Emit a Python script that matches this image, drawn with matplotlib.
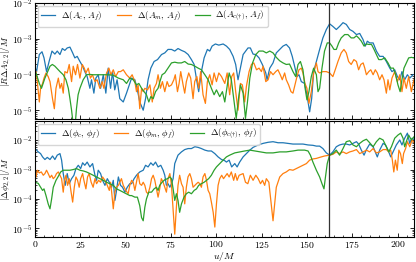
#importing libraries
import numpy as np
import matplotlib
matplotlib.use('Agg')
import matplotlib.pyplot as plt
from matplotlib.ticker import FuncFormatter, MultipleLocator, LogLocator, NullFormatter

#values
t_merge = 162.3

#top panel: amplitude differences
u_amp_c = [0.0, 0.9, 2.4, 3.9, 5.0, 6.4, 7.9, 9.4, 11.0, 12.3, 13.8, 15.1, 16.5, 17.8, 19.3, 20.8, 22.0, 23.3,
           24.8, 26.3, 27.5, 28.8, 30.3, 31.2, 32.5, 33.6, 34.9, 36.2, 37.7, 39.1, 40.4, 41.7, 42.8, 44.0, 45.3,
           46.8, 48.7, 50.5, 51.4, 53.3, 55.1, 56.5, 57.8, 59.7, 61.0, 62.4, 63.9, 65.7, 67.6, 69.8, 71.6, 73.4,
           75.3, 77.1, 78.9, 80.8, 82.6, 84.5, 86.3, 87.8, 89.0, 90.3, 91.8, 93.3, 95.1, 96.4, 97.7, 99.5, 101.4,
           103.8, 105.6, 107.4, 109.3, 110.7, 112.0, 113.3, 114.8, 116.2, 117.5, 118.8, 120.3, 121.8, 123.6,
           125.4, 127.3, 128.0, 129.5, 131.3, 133.1, 135.0, 136.8, 138.6, 140.4, 141.9, 143.2, 144.5, 145.6,
           146.9, 148.7, 150.0, 151.5, 152.6, 153.7, 155.2, 157.0, 158.8, 160.7, 162.5, 164.3, 166.2, 168.0,
           169.9, 171.7, 173.6, 175.4, 177.3, 179.1, 180.9, 182.2, 183.3, 184.6, 186.5, 188.3, 190.1, 192.0,
           193.8, 195.7, 196.9, 198.4, 199.9, 201.2, 202.4, 203.9, 205.4, 206.7, 208.5]
amp_c = [1.6e-4, 1.2e-4, 3.6e-4, 4.3e-4, 2.9e-4, 1.2e-4, 2.4e-4, 4.5e-4, 3.7e-4, 4.5e-4, 3.6e-4, 5.3e-4, 4.7e-4, 5.5e-4,
         5.8e-4, 4.0e-4, 2.9e-4, 3.2e-4, 2.3e-4, 1.7e-4, 1.2e-4, 8.7e-5, 4.1e-5, 7.1e-5, 3.0e-5, 7.9e-5, 9.8e-5,
         4.1e-5, 9.8e-5, 3.0e-5, 1.5e-4, 4.1e-5, 1.2e-4, 3.7e-5, 7.1e-5, 2.1e-5, 1.7e-5, 3.0e-5, 4.1e-5, 7.9e-5,
         7.1e-5, 3.7e-5, 1.7e-5, 1.0e-5, 2.1e-5, 7.1e-5, 1.5e-4, 2.3e-4, 2.6e-4, 3.6e-4, 4.0e-4, 5.0e-4, 5.0e-4,
         4.5e-4, 5.3e-4, 4.7e-4, 4.3e-4, 3.6e-4, 2.6e-4, 1.9e-4, 7.9e-5, 3.3e-5, 1.2e-4, 2.9e-4, 5.0e-4, 4.5e-4,
         6.2e-4, 7.1e-4, 6.6e-4, 7.1e-4, 6.2e-4, 5.0e-4, 3.2e-4, 1.9e-4, 7.1e-5, 1.5e-4, 3.6e-4, 4.5e-4, 5.5e-4,
         5.5e-4, 3.7e-4, 3.6e-4, 2.9e-4, 1.9e-4, 1.1e-4, 7.1e-5, 1.5e-4, 2.1e-4, 4.0e-4, 5.0e-4, 6.2e-4, 6.9e-4,
         5.5e-4, 3.2e-4, 1.7e-4, 8.7e-5, 9.8e-5, 6.3e-5, 5.6e-5, 2.7e-5, 9.0e-6, 2.1e-5, 1.2e-4, 2.3e-4, 5.0e-4,
         1.05e-3, 1.8e-3, 2.6e-3, 2.2e-3, 1.8e-3, 2.2e-3, 2.8e-3, 2.5e-3, 1.8e-3, 1.6e-3, 1.3e-3, 1.4e-3, 9.5e-4,
         6.2e-4, 8.5e-4, 7.6e-4, 7.6e-4, 4.5e-4, 3.2e-4, 3.2e-4, 2.3e-4, 1.5e-4, 1.2e-4, 1.35e-4, 8.7e-5, 7.1e-5,
         1.2e-4, 7.1e-5, 9.8e-5, 7.9e-5, 9.8e-5]

u_amp_m = [0.0, 0.6, 1.3, 2.4, 3.1, 4.2, 5.0, 6.1, 7.3, 8.3, 9.7, 10.7, 11.6, 12.9, 13.8, 14.7, 15.6, 16.5, 17.8,
           18.9, 20.2, 21.1, 22.4, 23.5, 24.8, 26.1, 27.2, 28.1, 29.4, 30.6, 31.7, 33.1, 34.3, 35.8, 37.1, 38.0,
           39.5, 40.8, 41.9, 43.2, 44.5, 46.0, 47.2, 48.7, 50.5, 52.3, 53.6, 55.1, 56.0, 56.9, 57.8, 58.8, 59.7,
           60.6, 62.1, 63.4, 64.7, 65.7, 67.0, 67.9, 69.2, 70.3, 71.6, 72.9, 73.9, 75.3, 76.6, 77.4, 78.6, 79.5,
           80.4, 81.7, 82.6, 83.5, 84.8, 85.9, 87.2, 88.1, 89.3, 90.3, 91.4, 92.7, 94.0, 95.1, 96.4, 97.7, 98.8,
           100.1, 101.4, 102.9, 104.7, 106.0, 107.4, 108.5, 109.6, 110.7, 112.0, 113.3, 114.4, 115.7, 116.6,
           118.1, 119.4, 120.7, 122.2, 123.6, 124.9, 125.8, 127.3, 128.6, 129.9, 131.3, 132.8, 134.0, 135.3,
           136.4, 137.7, 138.6, 139.9, 141.2, 142.3, 143.4, 144.5, 145.6, 146.9, 147.8, 148.9, 150.0, 151.1,
           152.4, 153.7, 155.2, 156.1, 157.0, 158.8, 160.7, 162.5, 164.3, 165.6, 167.1, 168.9, 170.4, 171.7,
           173.0, 174.4, 175.9, 177.3, 178.5, 179.7, 181.0, 181.9, 182.8, 184.1, 185.2, 186.5, 187.7, 188.8,
           190.1, 191.4, 192.5, 193.8, 194.7, 195.7, 196.9, 198.4, 199.9, 201.2, 202.4, 203.5, 204.8, 206.1,
           207.6, 209.0]
amp_m = [1.3e-4, 1.2e-4, 6.3e-5, 1.7e-5, 4.1e-5, 5.6e-5, 7.9e-5, 1.1e-4, 8.7e-5, 6.3e-5, 2.1e-5, 1.1e-5, 4.1e-5,
         7.9e-5, 4.1e-5, 5.6e-5, 3.0e-5, 1.2e-4, 1.1e-4, 1.9e-4, 6.3e-5, 1.7e-4, 9.8e-5, 1.9e-4, 7.9e-5, 1.9e-4,
         1.5e-4, 1.1e-4, 1.5e-4, 7.9e-5, 9.8e-5, 6.3e-5, 7.1e-5, 4.1e-5, 6.3e-5, 4.1e-5, 1.1e-4, 1.5e-4, 9.8e-5,
         1.35e-4, 8.7e-5, 1.2e-4, 1.2e-4, 1.35e-4, 9.8e-5, 7.9e-5, 9.8e-5, 6.3e-5, 3.3e-5, 5.1e-5, 1.1e-5, 4.1e-5,
         3.3e-5, 4.1e-5, 3.7e-5, 5.1e-5, 1.7e-5, 4.1e-5, 5.6e-5, 9.8e-5, 4.1e-5, 6.3e-5, 3.3e-5, 6.3e-5, 4.6e-5,
         5.1e-5, 7.1e-5, 9.8e-5, 3.3e-5, 5.6e-5, 1.2e-4, 5.1e-5, 3.0e-5, 6.3e-5, 1.1e-4, 7.9e-5, 2.1e-5, 6.3e-5,
         8.7e-5, 4.1e-5, 1.2e-4, 2.7e-5, 1.55e-5, 6.3e-5, 9.8e-5, 5.1e-5, 1.1e-4, 6.3e-5, 1.1e-4, 8.7e-5, 5.6e-5,
         1.1e-4, 2.7e-5, 8.7e-5, 1.1e-4, 3.3e-5, 1.0e-5, 5.6e-5, 5.1e-5, 1.7e-5, 4.6e-5, 1.2e-4, 1.9e-4, 2.1e-4,
         1.35e-4, 1.5e-4, 1.2e-4, 1.7e-4, 6.3e-5, 7.1e-5, 1.2e-4, 9.8e-5, 1.2e-4, 1.35e-4, 9.8e-5, 7.1e-5, 1.1e-4,
         7.1e-5, 5.1e-5, 3.3e-5, 3.0e-5, 5.1e-5, 8.7e-5, 1.35e-4, 1.5e-4, 1.1e-4, 5.6e-5, 4.1e-5, 1.55e-5, 3.3e-5,
         1.1e-4, 2.1e-4, 1.2e-4, 1.1e-4, 1.2e-4, 1.2e-4, 1.1e-4, 8.7e-5, 1.35e-4, 2.3e-4, 4.0e-4, 5.0e-4, 4.0e-4,
         2.3e-4, 1.9e-4, 2.6e-4, 2.3e-4, 1.35e-4, 1.9e-4, 2.1e-4, 1.5e-4, 9.8e-5, 1.2e-4, 1.35e-4, 9.8e-5, 1.35e-4,
         1.1e-4, 7.1e-5, 9.8e-5, 7.1e-5, 3.0e-5, 7.1e-5, 3.7e-5, 7.9e-5, 1.2e-4, 6.3e-5, 9.8e-5, 3.3e-5, 7.9e-5,
         4.1e-5, 8.7e-5, 3.3e-5, 7.1e-5]

u_amp_ct = [0.0, 0.6, 2.4, 3.6, 5.5, 8.3, 9.6, 11.0, 12.0, 13.8, 15.6, 17.1, 18.4, 19.3, 20.2, 21.1, 22.0, 22.9,
            23.8, 24.8, 26.6, 28.4, 30.3, 32.1, 35.0, 40.0, 43.2, 46.0, 48.7, 50.5, 52.3, 54.2, 56.0, 57.3, 58.8,
            60.2, 61.5, 62.8, 63.9, 65.2, 66.5, 67.9, 68.9, 70.1, 71.6, 73.4, 75.3, 77.1, 78.9, 80.8, 82.6, 84.5,
            86.3, 88.2, 90.0, 91.8, 93.7, 95.5, 97.3, 98.8, 100.1, 101.9, 103.4, 104.7, 106.0, 107.1, 108.3, 109.6,
            111.0, 112.4, 113.3, 114.8, 116.1, 117.2, 118.5, 120.0, 121.8, 123.6, 125.8, 127.6, 129.5, 131.3,
            133.1, 135.0, 136.8, 138.6, 140.4, 142.3, 143.8, 145.1, 146.4, 147.8, 149.0, 150.0, 151.1, 152.4,
            153.7, 155.2, 156.1, 157.0, 158.3, 159.7, 161.2, 162.5, 163.8, 164.9, 166.2, 167.5, 168.9, 170.8,
            172.6, 174.4, 175.9, 177.3, 178.5, 180.0, 181.5, 182.8, 184.1, 185.6, 187.0, 188.3, 189.6, 191.1,
            192.9, 194.7, 196.2, 197.7, 198.9, 200.2, 201.4, 202.4, 203.5, 204.8, 206.1, 207.6, 209.0]
amp_ct = [1.1e-4, 1.1e-4, 5.6e-5, 4.1e-5, 7.9e-5, 1.7e-4, 1.9e-4, 1.7e-4, 1.5e-4, 1.2e-4, 9.8e-5, 7.1e-5, 4.1e-5,
          2.1e-5, 1.0e-5, 4.0e-6, 3.0e-6, 1.1e-5, 2.7e-5, 4.1e-5, 7.1e-5, 9.8e-5, 1.0e-4, 9.8e-5, 9.8e-5, 9.8e-5,
          9.5e-5, 7.9e-5, 7.1e-5, 5.6e-5, 7.9e-5, 7.1e-5, 5.1e-5, 5.6e-5, 4.1e-5, 3.3e-5, 2.7e-5, 1.7e-5, 2.4e-5,
          2.1e-5, 3.3e-5, 4.1e-5, 6.3e-5, 9.8e-5, 1.1e-4, 1.5e-4, 2.1e-4, 2.2e-4, 2.1e-4, 2.1e-4, 2.3e-4, 1.95e-4,
          1.9e-4, 1.7e-4, 1.5e-4, 1.35e-4, 9.8e-5, 7.1e-5, 4.1e-5, 2.7e-5, 3.7e-5, 2.4e-5, 3.3e-5, 1.7e-5, 4.6e-5,
          1.1e-4, 7.1e-5, 2.1e-5, 5.9e-6, 2.4e-5, 5.1e-5, 3.0e-5, 5.9e-6, 1.7e-5, 7.9e-5, 2.1e-4, 3.6e-4, 4.5e-4,
          4.5e-4, 4.0e-4, 4.5e-4, 4.0e-4, 3.0e-4, 2.4e-4, 2.1e-4, 1.9e-4, 1.95e-4, 1.2e-4, 8.7e-5, 1.9e-4, 2.3e-4,
          1.35e-4, 4.1e-5, 1.95e-5, 3.3e-5, 8.7e-5, 1.5e-4, 9.8e-5, 3.3e-5, 4.1e-5, 1.5e-4, 4.5e-4, 7.6e-4, 7.6e-4,
          6.2e-4, 5.0e-4, 5.0e-4, 7.6e-4, 1.05e-3, 1.3e-3, 1.3e-3, 1.05e-3, 1.05e-3, 1.2e-3, 1.05e-3, 8.5e-4,
          6.2e-4, 7.1e-4, 6.9e-4, 6.9e-4, 5.0e-4, 3.6e-4, 2.6e-4, 2.6e-4, 2.9e-4, 2.1e-4, 1.5e-4, 1.5e-4, 9.8e-5,
          5.1e-5, 3.3e-5, 7.1e-5, 1.5e-4, 2.1e-4, 2.9e-4, 3.0e-4, 2.9e-4]

#bottom panel: phase differences
u_ph_c = [0.0, 0.6, 1.8, 3.1, 4.2, 5.5, 6.8, 8.3, 9.7, 11.0, 12.3, 13.8, 14.7, 15.6, 16.7, 17.8, 18.9, 20.2, 21.5,
          22.6, 23.9, 25.2, 26.3, 27.5, 28.8, 30.3, 31.8, 33.1, 34.0, 34.9, 36.2, 37.3, 38.6, 39.9, 41.0, 42.3,
          43.2, 44.1, 45.0, 46.0, 47.2, 48.3, 49.6, 50.9, 52.3, 53.3, 54.7, 56.0, 57.8, 59.7, 61.0, 62.4, 63.9,
          65.2, 66.5, 67.9, 69.4, 70.7, 71.6, 72.5, 73.4, 74.4, 75.3, 76.2, 77.1, 78.9, 80.8, 82.6, 84.5, 86.3,
          88.2, 90.0, 91.8, 93.7, 95.5, 97.3, 99.2, 101.0, 102.9, 104.7, 105.6, 107.1, 108.5, 110.2, 111.5, 112.9,
          114.8, 116.6, 118.5, 120.3, 123.1, 125.8, 128.6, 131.3, 134.1, 136.8, 139.6, 142.3, 145.1, 147.8, 150.6,
          153.3, 155.2, 157.0, 158.8, 160.7, 162.5, 164.3, 166.2, 168.0, 169.9, 171.7, 173.6, 175.4, 177.3,
          178.5, 180.0, 181.5, 182.8, 184.6, 186.5, 187.7, 188.8, 190.1, 192.0, 193.3, 194.7, 196.2, 197.5,
          199.3, 201.2, 202.4, 203.9, 205.4, 206.7, 208.0, 209.4]
ph_c = [5.0e-3, 4.8e-3, 4.0e-3, 3.5e-3, 2.7e-3, 2.2e-3, 2.6e-3, 2.2e-3, 2.9e-3, 2.2e-3, 3.1e-3, 3.5e-3, 2.1e-3,
        7.3e-4, 2.9e-4, 7.3e-4, 3.3e-4, 4.9e-4, 6.4e-4, 1.08e-3, 1.4e-3, 1.08e-3, 1.7e-3, 1.4e-3, 1.8e-3, 1.23e-3,
        1.6e-3, 6.4e-4, 4.3e-4, 9.5e-4, 7.3e-4, 4.3e-4, 2.9e-4, 4.9e-4, 3.7e-4, 2.5e-4, 4.3e-4, 8.9e-5, 1.95e-4,
        5.6e-4, 2.9e-4, 2.5e-4, 1.7e-4, 2.5e-4, 3.3e-4, 3.3e-4, 4.9e-4, 6.4e-4, 8.3e-4, 9.5e-4, 1.4e-3, 1.23e-3,
        1.7e-3, 1.4e-3, 1.8e-3, 1.23e-3, 1.4e-3, 9.5e-4, 6.4e-4, 2.9e-4, 3.3e-4, 2.5e-4, 3.3e-4, 4.9e-4, 1.6e-3,
        3.1e-3, 4.0e-3, 4.8e-3, 5.2e-3, 5.2e-3, 6.0e-3, 5.7e-3, 5.2e-3, 4.6e-3, 4.3e-3, 4.3e-3, 3.5e-3, 2.7e-3,
        2.2e-3, 2.0e-3, 1.8e-3, 2.1e-3, 1.23e-3, 1.6e-3, 1.23e-3, 1.8e-3, 2.7e-3, 3.5e-3, 4.6e-3, 5.7e-3, 6.9e-3,
        7.8e-3, 8.5e-3, 8.9e-3, 8.2e-3, 8.2e-3, 7.8e-3, 7.4e-3, 7.4e-3, 7.4e-3, 6.9e-3, 6.7e-3, 6.3e-3, 6.3e-3,
        5.2e-3, 3.7e-3, 3.1e-3, 4.0e-3, 6.0e-3, 6.9e-3, 7.4e-3, 7.4e-3, 6.9e-3, 7.8e-3, 8.9e-3, 7.4e-3, 4.6e-3,
        3.1e-3, 4.8e-3, 7.4e-3, 6.0e-3, 4.0e-3, 2.7e-3, 4.6e-3, 7.8e-3, 6.9e-3, 4.6e-3, 2.7e-3, 4.0e-3, 6.9e-3,
        1.02e-2, 6.9e-3, 1.17e-2, 1.74e-2, 7.8e-3, 1.17e-2, 1.02e-2]

u_ph_m = [0.0, 0.6, 1.3, 2.4, 3.5, 4.6, 5.5, 6.4, 7.3, 8.3, 9.2, 10.1, 11.0, 11.9, 12.9, 13.8, 14.7, 15.6, 16.3,
          17.1, 18.0, 18.9, 19.8, 20.8, 21.7, 22.6, 23.5, 24.4, 25.2, 26.3, 27.0, 28.1, 29.0, 29.9, 31.0, 32.1,
          33.1, 34.0, 35.1, 36.2, 37.3, 38.6, 39.9, 41.0, 41.7, 42.4, 43.2, 44.1, 45.0, 46.0, 46.8, 47.7, 48.7,
          50.1, 51.4, 52.3, 53.3, 54.2, 55.1, 56.0, 56.9, 57.8, 58.8, 59.7, 60.6, 61.5, 62.4, 63.4, 64.3, 65.2,
          66.1, 67.0, 67.9, 68.8, 69.7, 70.7, 71.6, 72.5, 73.4, 74.4, 75.3, 76.2, 77.1, 78.0, 78.9, 79.8, 80.8,
          81.7, 82.6, 83.5, 84.4, 85.4, 86.3, 87.2, 88.2, 89.1, 90.0, 90.9, 91.8, 92.7, 93.7, 94.6, 95.5, 96.4,
          97.3, 98.3, 99.2, 100.1, 101.0, 101.9, 103.0, 104.0, 106.0, 107.1, 108.3, 109.6, 110.5, 111.5, 112.6,
          114.8, 116.1, 117.4, 118.8, 120.3, 121.8, 123.1, 124.4, 125.5, 126.7, 127.6, 129.0, 130.4, 131.3,
          132.2, 133.1, 135.0, 136.8, 138.6, 140.4, 142.3, 144.1, 146.0, 147.8, 149.7, 151.5, 153.3, 155.2,
          157.0, 159.7, 162.5, 164.3, 166.2, 168.0, 169.9, 171.7, 173.6, 175.4, 177.3, 179.1, 181.0, 182.8,
          184.6, 186.5, 188.3, 190.1, 192.0, 193.8, 195.1, 196.2, 197.1, 197.9, 198.8, 199.8, 200.7, 201.6,
          202.6, 203.3, 204.4, 205.4, 206.7, 208.0, 209.4]
ph_m = [5.0e-4, 5.6e-4, 9.5e-4, 7.7e-4, 8.3e-4, 6.4e-4, 7.3e-4, 9.5e-4, 7.3e-4, 5.3e-4, 6.4e-4, 4.9e-4, 5.6e-4,
        7.3e-4, 8.3e-4, 6.4e-4, 4.9e-4, 1.7e-4, 4.3e-4, 6.4e-4, 2.9e-4, 4.9e-4, 1.95e-4, 7.8e-5, 2.5e-4, 5.6e-4,
        4.3e-4, 2.5e-4, 4.9e-4, 7.3e-4, 4.3e-4, 2.2e-4, 5.6e-4, 7.3e-4, 3.7e-4, 2.5e-4, 4.9e-4, 3.3e-4, 4.3e-4,
        3.7e-4, 5.6e-4, 4.3e-4, 2.9e-4, 1.95e-4, 3.7e-4, 1.5e-4, 4.6e-5, 1.7e-4, 2.5e-4, 2.9e-4, 3.7e-4, 4.9e-4,
        2.9e-4, 1.95e-4, 1.5e-4, 2.9e-4, 4.3e-4, 3.7e-4, 1.95e-4, 3.7e-4, 7.3e-4, 3.3e-4, 2.9e-4, 3.7e-4, 2.9e-4,
        1.7e-4, 1.5e-4, 2.5e-4, 4.9e-4, 6.4e-4, 4.3e-4, 2.2e-4, 1.15e-4, 2.2e-4, 4.9e-4, 3.7e-4, 2.5e-4, 1.7e-4,
        4.9e-4, 7.3e-4, 2.9e-4, 4.0e-5, 6.3e-6, 5.2e-5, 2.9e-4, 6.4e-4, 3.3e-4, 2.5e-4, 6.8e-5, 2.5e-4, 5.6e-4,
        7.3e-4, 4.9e-4, 2.5e-4, 2.9e-4, 3.3e-4, 3.7e-4, 3.3e-4, 2.5e-4, 5.6e-4, 7.3e-4, 4.3e-4, 1.95e-4, 1.5e-4,
        7.8e-5, 3.5e-5, 1.1e-5, 6.8e-5, 2.9e-4, 4.9e-4, 6.4e-4, 4.9e-4, 7.3e-4, 5.6e-4, 8.3e-4, 4.3e-4, 7.3e-4,
        4.3e-4, 6.4e-4, 7.3e-4, 3.7e-4, 3.3e-4, 6.4e-4, 4.3e-4, 6.4e-4, 4.9e-4, 3.3e-4, 4.3e-4, 2.9e-4, 4.9e-4,
        3.7e-4, 5.9e-5, 1.8e-5, 6.8e-5, 2.5e-4, 5.6e-4, 7.3e-4, 8.3e-4, 1.0e-3, 9.5e-4, 1.08e-3, 1.23e-3, 1.4e-3,
        1.6e-3, 2.1e-3, 2.3e-3, 2.4e-3, 2.6e-3, 2.9e-3, 3.1e-3, 3.3e-3, 4.0e-3, 3.5e-3, 4.0e-3, 3.5e-3, 4.0e-3,
        4.3e-3, 4.8e-3, 3.5e-3, 4.0e-3, 4.6e-3, 4.0e-3, 5.2e-3, 3.7e-3, 4.0e-3, 4.8e-3, 4.8e-3, 4.0e-3, 4.6e-3,
        2.1e-3, 8.3e-4, 2.1e-3, 9.5e-4, 4.6e-3, 3.5e-3, 1.6e-3, 3.5e-3, 5.2e-3, 8.9e-3, 6.0e-3, 1.02e-2, 7.8e-3]

u_ph_ct = [0.0, 1.8, 3.1, 4.2, 5.0, 6.1, 7.3, 8.3, 9.2, 10.1, 11.6, 12.9, 14.2, 15.6, 17.4, 19.3, 21.1, 22.9, 24.8,
           26.6, 28.4, 30.3, 32.1, 34.0, 35.8, 37.7, 39.5, 41.3, 43.2, 45.0, 46.8, 48.7, 50.5, 52.3, 53.3, 55.1,
           56.5, 57.8, 58.8, 59.7, 60.6, 61.5, 62.8, 64.3, 65.7, 67.0, 67.9, 68.8, 70.1, 71.6, 73.1, 74.4, 75.3,
           76.2, 77.1, 78.0, 78.9, 79.8, 80.8, 82.2, 83.5, 84.8, 86.3, 87.8, 89.1, 90.3, 91.8, 93.3, 94.6, 95.8,
           97.3, 98.8, 100.1, 101.9, 103.8, 105.6, 107.4, 110.2, 112.9, 115.7, 118.5, 121.3, 124.0, 127.6, 131.3,
           135.0, 138.6, 142.3, 145.1, 148.7, 150.6, 151.9, 153.3, 155.2, 157.0, 158.3, 159.4, 160.1, 161.2,
           162.5, 164.3, 166.2, 168.0, 169.9, 171.7, 173.6, 175.4, 177.3, 179.1, 181.0, 182.8, 184.6, 186.5,
           188.3, 190.1, 192.0, 193.8, 195.1, 196.6, 198.4, 200.2, 201.7, 203.0, 203.9, 204.8, 206.1, 207.6, 209.0]
ph_ct = [3.7e-4, 3.4e-4, 2.5e-4, 1.95e-4, 2.2e-4, 1.3e-4, 6.8e-5, 4.6e-5, 1.0e-4, 2.5e-4, 4.3e-4, 5.9e-4, 8.3e-4,
         9.5e-4, 9.5e-4, 9.5e-4, 1.0e-3, 1.08e-3, 9.5e-4, 9.0e-4, 8.3e-4, 7.3e-4, 6.4e-4, 5.6e-4, 4.9e-4, 4.3e-4,
         3.7e-4, 3.3e-4, 2.9e-4, 2.2e-4, 1.95e-4, 1.7e-4, 1.5e-4, 1.3e-4, 1.3e-4, 1.15e-4, 1.15e-4, 5.9e-5, 2.3e-5,
         1.8e-5, 5.2e-5, 1.0e-4, 1.7e-4, 1.7e-4, 2.2e-4, 2.5e-4, 1.95e-4, 2.9e-4, 3.7e-4, 4.5e-4, 4.9e-4, 5.6e-4,
         4.9e-4, 2.2e-4, 8.9e-5, 1.5e-4, 8.9e-5, 3.5e-5, 6.8e-5, 1.15e-4, 1.5e-4, 1.7e-4, 1.5e-4, 1.95e-4, 2.2e-4,
         2.9e-4, 3.3e-4, 3.7e-4, 4.3e-4, 4.9e-4, 6.4e-4, 9.5e-4, 1.23e-3, 1.6e-3, 2.1e-3, 2.7e-3, 3.1e-3, 3.7e-3,
         4.0e-3, 4.3e-3, 4.6e-3, 4.3e-3, 4.0e-3, 3.7e-3, 3.7e-3, 4.0e-3, 4.0e-3, 4.3e-3, 4.6e-3, 4.6e-3, 4.3e-3,
         3.1e-3, 1.8e-3, 9.5e-4, 5.6e-4, 3.3e-4, 2.2e-4, 4.9e-4, 1.6e-3, 3.1e-3, 3.5e-3, 4.6e-3, 3.1e-3, 5.2e-3,
         8.9e-3, 9.6e-3, 6.9e-3, 6.0e-3, 7.8e-3, 9.6e-3, 1.08e-2, 8.2e-3, 6.0e-3, 8.9e-3, 1.17e-2, 1.02e-2, 6.0e-3,
         4.0e-3, 6.0e-3, 1.17e-2, 1.5e-2, 1.74e-2, 1.17e-2, 6.0e-3, 8.9e-3, 1.5e-2, 1.02e-2, 1.3e-2]

#labels
amp_labels = [r'$\Delta(A_c,\,A_f)$', r'$\Delta(A_m,\,A_f)$', r'$\Delta(A_{c(\dagger)},\,A_f)$']
ph_labels = [r'$\Delta(\phi_c,\,\phi_f)$', r'$\Delta(\phi_m,\,\phi_f)$', r'$\Delta(\phi_{c(\dagger)},\,\phi_f)$']

#style
plt.rcParams['font.family'] = 'cmr10'
plt.rcParams['mathtext.fontset'] = 'cm'
plt.rcParams['axes.formatter.use_mathtext'] = True
plt.rcParams['font.size'] = 7
plt.rcParams['axes.linewidth'] = 0.8

fig = plt.figure(figsize=(4.16, 2.62), dpi=100)
ax1 = fig.add_axes([0.084, 0.546, 0.911, 0.443])
ax2 = fig.add_axes([0.084, 0.095, 0.911, 0.443], sharex=ax1)

lw = 0.9
ax1.plot(u_amp_c, amp_c, color='#1f77b4', lw=lw, label=amp_labels[0])
ax1.plot(u_amp_m, amp_m, color='#ff7f0e', lw=lw, label=amp_labels[1])
ax1.plot(u_amp_ct, amp_ct, color='#2ca02c', lw=lw, label=amp_labels[2])

ax2.plot(u_ph_c, ph_c, color='#1f77b4', lw=lw, label=ph_labels[0])
ax2.plot(u_ph_m, ph_m, color='#ff7f0e', lw=lw, label=ph_labels[1])
ax2.plot(u_ph_ct, ph_ct, color='#2ca02c', lw=lw, label=ph_labels[2])

for ax in (ax1, ax2):
    ax.axvline(t_merge, color='#333333', lw=0.9)
    ax.set_yscale('log')
    ax.set_xlim(0, 209)
    ax.xaxis.set_major_locator(MultipleLocator(25))
    ax.xaxis.set_minor_locator(MultipleLocator(5))
    ax.yaxis.set_major_locator(LogLocator(base=10, numticks=10))
    ax.yaxis.set_minor_locator(LogLocator(base=10, subs=np.arange(2, 10), numticks=10))
    ax.yaxis.set_minor_formatter(NullFormatter())
    ax.tick_params(which='both', direction='in', top=True, right=True, labelsize=7, pad=1.5)
    ax.tick_params(which='major', length=3, width=0.6)
    ax.tick_params(which='minor', length=1.5, width=0.5)
    ax.legend(loc='upper left', ncol=3, fontsize=6.5, handlelength=1.6, columnspacing=1.6,
              borderaxespad=0.3, borderpad=0.35, handletextpad=0.6)

ax1.set_ylim(5.7e-6, 1e-2)
ax2.set_ylim(5e-6, 4.5e-2)
plt.setp(ax1.get_xticklabels(), visible=False)
ax2.xaxis.set_major_formatter(FuncFormatter(lambda v, p: f'${v:g}$'))

ax1.set_ylabel(r'$|R\Delta A_{2,2}|/M$', fontsize=6.5)
ax2.set_ylabel(r'$|\Delta\phi_{2,2}|/M$', fontsize=6.5)
ax1.yaxis.set_label_coords(-0.059, 0.5)
ax2.yaxis.set_label_coords(-0.059, 0.5)
ax2.set_xlabel(r'$u/M$', fontsize=7, labelpad=0)

fig.savefig('out.png', dpi=100)
